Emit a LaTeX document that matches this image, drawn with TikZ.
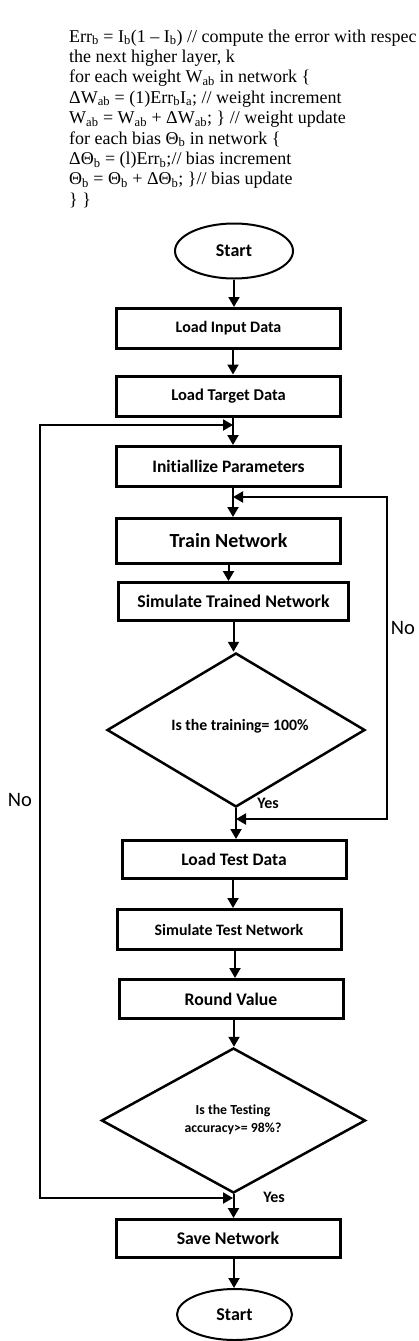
\documentclass[tikz,border=0pt]{standalone}
\usepackage{fontspec}
\setmainfont{Liberation Serif}
\newfontfamily\flowfont{Carlito}[Ligatures=NoCommon]
\usetikzlibrary{shapes.geometric,arrows.meta}
\newcommand\fsz[1]{\flowfont\bfseries\fontsize{#1}{#1}\selectfont}
\begin{document}
\begin{tikzpicture}[x=1pt,y=-1pt,
  box/.style={draw,line width=3pt,rectangle,inner sep=0pt,minimum width=224pt,minimum height=40pt,
    font=\fsz{16}},
  term/.style={draw,line width=2pt,ellipse,inner sep=0pt,font=\fsz{18}},
  dec/.style={draw,line width=2.5pt,diamond,inner sep=0pt},
  dectext/.style={inner sep=0pt,align=center,font=\flowfont\bfseries\fontsize{15.8}{18}\selectfont},
  conn/.style={line width=2pt,-{Triangle[width=11pt,length=10pt]}},
  loopconn/.style={line width=2pt,{Triangle[width=11pt,length=10pt]}-{Triangle[width=11pt,length=10pt]}},
  nolbl/.style={inner sep=0pt,font=\flowfont\fontsize{20.5}{22}\selectfont},
  yeslbl/.style={inner sep=0pt,font=\fsz{16}},
  codeline/.style={anchor=base west,inner sep=0pt,font=\fontsize{18}{20.4}\selectfont}
]
\useasboundingbox (0,0) rectangle (419,1341);

% code text
\node[codeline] (c1) at (69,42) {Err\textsubscript{b} = I\textsubscript{b}(1 – I\textsubscript{b}) // compute the error with respec};
\node[codeline] (c2) at (69,62.4) {the next higher layer, k};
\node[codeline] (c3) at (69,82.8) {for each weight W\textsubscript{ab} in network \{};
\node[codeline] (c4) at (69,103.2) {ΔW\textsubscript{ab} = (1)Err\textsubscript{b}I\textsubscript{a}; // weight increment};
\node[codeline] (c5) at (69,123.6) {W\textsubscript{ab} = W\textsubscript{ab} + ΔW\textsubscript{ab}; \} // weight update};
\node[codeline] (c6) at (69,144) {for each bias Θ\textsubscript{b} in network \{};
\node[codeline] (c7) at (69,164.4) {ΔΘ\textsubscript{b} = (l)Err\textsubscript{b};// bias increment};
\node[codeline] (c8) at (69,184.8) {Θ\textsubscript{b} = Θ\textsubscript{b} + ΔΘ\textsubscript{b}; \}// bias update};
\node[codeline] (c9) at (69,205.2) {\} \}};

% flowchart nodes
\node[term,minimum width=118pt,minimum height=55pt] (start) at (234,251) {Start};
\node[box] (in) at (228.5,328.5) {Load Input Data};
\node[box,font=\fsz{16.5}] (tgt) at (228.5,396) {Load Target Data};
\node[box,font=\fsz{17.5}] (init) at (228.5,466.5) {Initiallize Parameters};
\node[box,minimum height=45pt,font=\fsz{20}] (train) at (228.5,541) {Train Network};
\node[box,minimum width=230pt,minimum height=38pt,font=\fsz{17.8}] (sim) at (233.5,601.5) {Simulate Trained Network};
\node[dec,minimum width=258pt,minimum height=154pt] (d1) at (236,730) {};
\node[dectext] (d1t) at (240,726) {Is the training= 100\%};
\node[box,minimum height=38pt,font=\fsz{17.5}] (test) at (234,859.5) {Load Test Data};
\node[box,font=\fsz{15.9}] (simt) at (229,929.5) {Simulate Test Network};
\node[box,minimum height=39pt,font=\fsz{17.7}] (round) at (231,999) {Round Value};
\node[dec,minimum width=264pt,minimum height=145pt] (d2) at (233.5,1120.5) {};
\node[dectext,font=\flowfont\bfseries\fontsize{13.8}{18}\selectfont] (d2t) at (233,1120) {Is the Testing\\accuracy>= 98\%?};
\node[box,minimum height=38pt,font=\fsz{17.8}] (save) at (228,1238.5) {Save Network};
\node[term,minimum width=115pt,minimum height=51pt] (end) at (234.5,1314.5) {Start};

% labels
\node[nolbl] (noR) at (403,628) {No};
\node[nolbl] (noL) at (20,800) {No};
\node[yeslbl] (yes1) at (268,803) {Yes};
\node[yeslbl] (yes2) at (274,1197) {Yes};

% main connectors
\draw[conn] (start.south) -- (start.south |- in.north);
\draw[conn] ([xshift=4.5pt]in.south) -- ([xshift=4.5pt]in.south |- tgt.north);
\draw[conn] ([xshift=4.5pt]tgt.south) -- ([xshift=4.5pt]tgt.south |- init.north);
\draw[conn] ([xshift=4.5pt]init.south) -- ([xshift=4.5pt]init.south |- train.north);
\draw[conn] (train.south) -- (train.south |- sim.north);
\draw[conn] (sim.south) -- (sim.south |- d1.north);
\draw[conn] (d1.south) -- (d1.south |- test.north);
\draw[conn] ([xshift=-1pt]test.south) -- ([xshift=-1pt]test.south |- simt.north);
\draw[conn] ([xshift=6pt]simt.south) -- ([xshift=6pt]simt.south |- round.north);
\draw[conn] ([xshift=3pt]round.south) -- ([xshift=3pt]round.south |- d2.north);
\draw[conn] (d2.south) -- (d2.south |- save.north);
\draw[conn] ([xshift=6pt]save.south) -- ([xshift=6pt]save.south |- end.north);

% loops
\coordinate (jt) at (233,425);
\coordinate (jb) at (233,1198);
\coordinate (lc) at (40,425);
\draw[loopconn] (jb) -| (lc) -- (jt);
\coordinate (rt) at (233,497);
\coordinate (rb) at (236,819);
\coordinate (rc) at (387,497);
\draw[loopconn] (rb) -| (rc) -- (rt);
\end{tikzpicture}
\end{document}
